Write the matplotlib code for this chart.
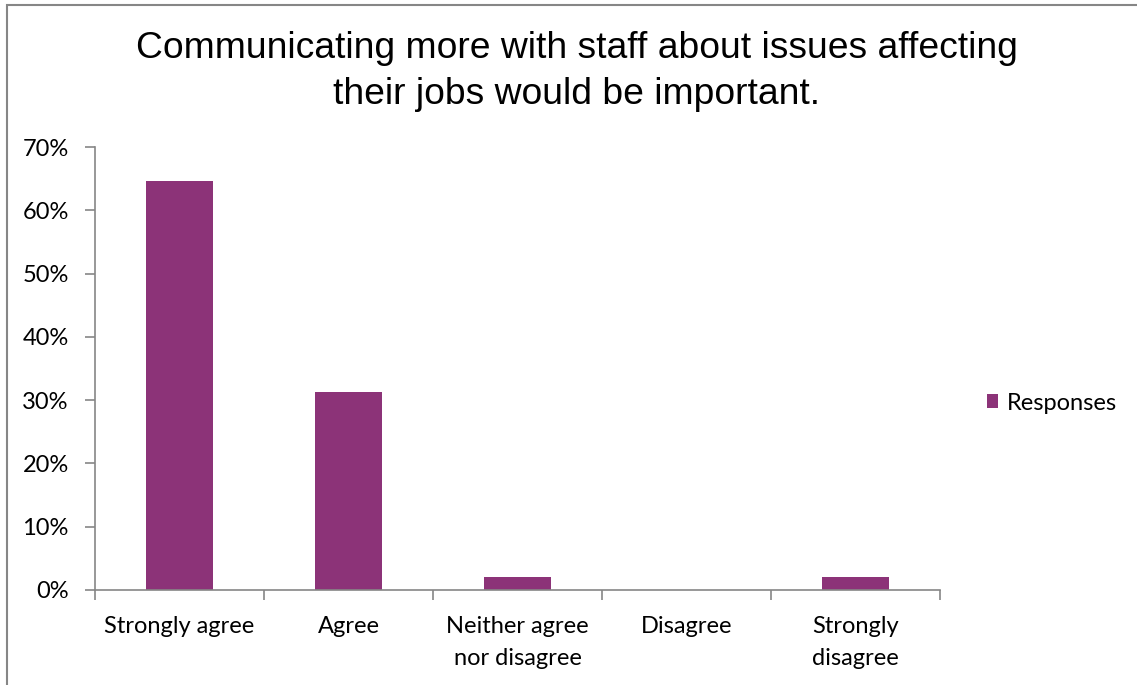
import numpy as np
import matplotlib.pyplot as plt
from matplotlib.patches import Rectangle
from matplotlib.ticker import PercentFormatter

# Survey results (share of respondents)
categories = ["Strongly agree", "Agree", "Neither agree\nnor disagree", "Disagree", "Strongly\ndisagree"]
responses = [64.6, 31.25, 2.08, 0.0, 2.08]
y_ticks = [0, 10, 20, 30, 40, 50, 60, 70]

title = "Communicating more with staff about issues affecting\ntheir jobs would be important."
bar_color = "#8C3378"
axis_color = "#868686"
label_font = ["Lato", "DejaVu Sans"]
label_size = 17

fig = plt.figure(figsize=(11.37, 6.85), dpi=100)
ax = fig.add_axes([0.0836, 0.1387, 0.7432, 0.6467])

x = np.arange(len(categories))
ax.bar(x, responses, width=0.4, color=bar_color, label="Responses")

ax.set_xlim(-0.5, len(categories) - 0.5)
ax.set_ylim(0, 70)
ax.set_yticks(y_ticks)
ax.yaxis.set_major_formatter(PercentFormatter(decimals=0))
ax.set_xticks(np.arange(len(categories) + 1) - 0.5, minor=False)
ax.set_xticklabels([])
ax.set_xticks(x, minor=True)
ax.set_xticklabels(categories, minor=True, fontsize=label_size, family=label_font,
                   linespacing=1.65, va="top")
ax.tick_params(axis="x", which="minor", length=0, pad=19)
ax.tick_params(axis="x", which="major", length=7, color=axis_color, width=1.2)
ax.tick_params(axis="y", length=7, color=axis_color, width=1.2, pad=12)
for lbl in ax.get_yticklabels():
    lbl.set_fontsize(label_size)
    lbl.set_family(label_font)

for side in ["top", "right"]:
    ax.spines[side].set_visible(False)
for side in ["left", "bottom"]:
    ax.spines[side].set_color(axis_color)
    ax.spines[side].set_linewidth(1.2)

fig.text(0.507, 0.896, title, ha="center", va="center", fontsize=26.8,
         family="Liberation Sans", linespacing=1.4)

ax.legend(loc="center left", bbox_to_anchor=(1.03, 0.422), frameon=False,
          prop={"family": label_font, "size": label_size},
          handlelength=0.5, handleheight=0.5, handletextpad=0.35)

# outer chart frame
fig.patches.append(Rectangle((0.006, -0.05), 1.05, 1.043, transform=fig.transFigure,
                             fill=False, edgecolor=axis_color, linewidth=1.5))

fig.savefig("out.png", dpi=100)
